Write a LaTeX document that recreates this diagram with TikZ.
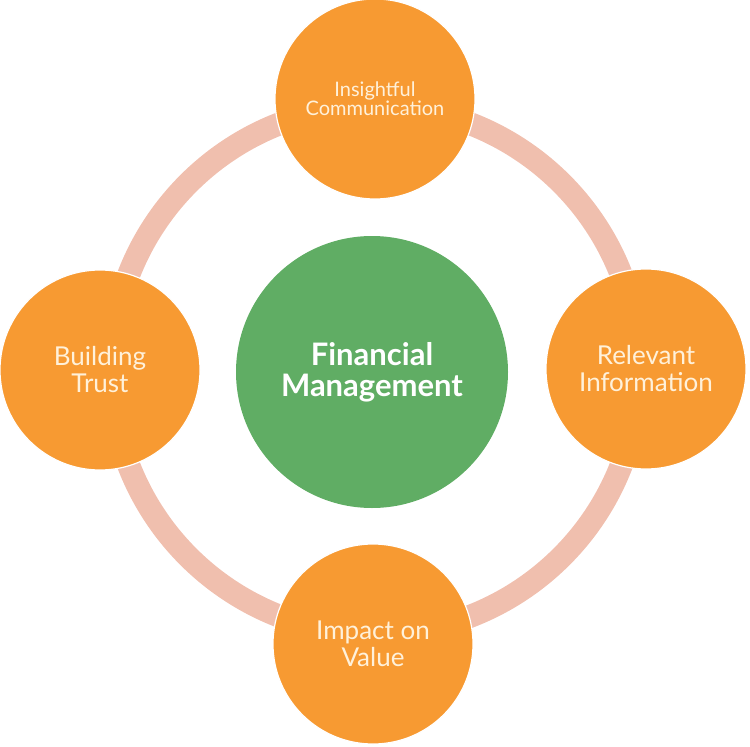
\documentclass[tikz,border=0pt]{standalone}
\usepackage{fontspec}
\setmainfont{Lato}
\definecolor{petal}{HTML}{F79A32}
\definecolor{hubgreen}{HTML}{60AD64}
\definecolor{ringpink}{HTML}{F0BFAE}
\definecolor{cream}{HTML}{FFF1DA}
\begin{document}
\begin{tikzpicture}[x=1pt,y=-1pt,
    petal/.style={circle, fill=petal, draw=white, line width=1.2pt, minimum size=200pt, inner sep=0pt, align=center, text=cream},
    hub/.style={circle, fill=hubgreen, minimum size=272pt, inner sep=0pt, align=center, text=white, font=\bfseries\fontsize{31}{31}\selectfont},
    ring/.style={draw=ringpink, line width=23pt}
]
\useasboundingbox (0,0) rectangle (750,747);

% ring behind everything
\coordinate (ctr) at (375,370);
\draw[ring] (ctr) circle (264);

% centre
\node[hub] (fm) at (372,372) {Financial\\Management};

% four petals round the ring
\node[petal, font=\fontsize{20}{19}\selectfont] (insight) at (375,99) {Insightful\\Communication};
\node[petal, font=\fontsize{26}{27}\selectfont] (info) at (646,369) {Relevant\\Information};
\node[petal, font=\fontsize{26}{27}\selectfont] (impact) at (373,644) {Impact on\\Value};
\node[petal, font=\fontsize{26}{27}\selectfont] (trust) at (100,370) {Building\\Trust};
\end{tikzpicture}
\end{document}
